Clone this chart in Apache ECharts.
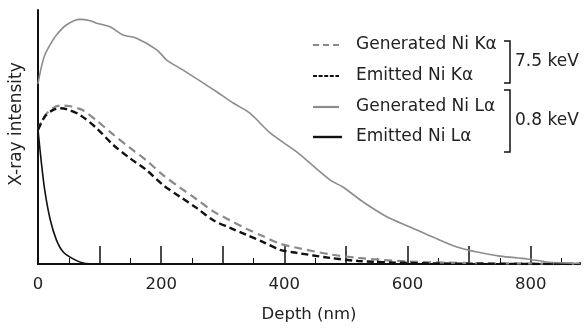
<!DOCTYPE html>
<html>
<head>
<meta charset="utf-8">
<script src="https://cdn.jsdelivr.net/npm/echarts@6/dist/echarts.min.js"></script>
<style>html,body{margin:0;padding:0;background:#fff;}#chart{width:587px;height:329px;}</style>
</head>
<body>
<div id="chart"></div>
<script>
// Series names
var seriesNames = ['Generated Ni Kα', 'Emitted Ni Kα', 'Generated Ni Lα', 'Emitted Ni Lα'];
var bracketLabels = ['7.5 keV', '0.8 keV'];

// Generated Ni Kα
var depthGenKa = [0, 11, 24, 36, 50, 73, 95, 122, 149, 176, 203, 231, 258, 284, 312, 339, 365, 393, 420, 474, 520, 600, 700, 880];
var valGenKa   = [52.8, 58.3, 61.4, 62.4, 62.2, 60.5, 56.5, 51.0, 45.8, 40.8, 35.0, 30.0, 25.4, 20.8, 17.2, 13.8, 11.0, 8.0, 6.4, 3.8, 2.4, 1.0, 0.4, 0.1];
// Emitted Ni Kα
var depthEmKa = [0, 11, 24, 36, 46, 68, 95, 122, 149, 176, 203, 231, 258, 284, 312, 339, 365, 393, 420, 474, 520, 600, 700, 880];
var valEmKa   = [52.8, 58.0, 60.6, 61.3, 61.0, 58.7, 53.5, 46.9, 41.7, 37.0, 31.1, 26.4, 22.0, 17.3, 14.2, 11.4, 8.7, 5.6, 4.4, 2.4, 1.2, 0.4, 0.1, 0];
// Generated Ni Lα
var depthGenLa = [0, 5, 11, 20, 30, 46, 68, 85, 95, 117, 138, 160, 193, 209, 235, 268, 290, 317, 344, 377, 420, 474, 495, 528, 567, 604, 641, 680, 713, 750, 794, 826, 859, 880];
var valGenLa   = [70.9, 77.0, 82.3, 86.5, 90.2, 94.1, 96.3, 95.8, 94.8, 93.4, 90.2, 88.9, 84.3, 80.3, 76.4, 71.3, 67.8, 63.4, 59.4, 51.6, 44.1, 33.1, 30.3, 24.4, 18.5, 14.6, 10.6, 6.7, 4.7, 3.1, 2.0, 0.8, 0.4, 0.2];
// Emitted Ni Lα
var depthEmLa = [0, 5, 11, 20, 30, 41, 57, 73, 100];
var valEmLa   = [52.8, 41.0, 29.0, 17.3, 9.4, 4.7, 2.0, 0.4, 0];

function pairs(xs, ys) { return xs.map(function (x, i) { return [x, ys[i]]; }); }

var FONT = 'DejaVu Sans';
var TXT = '#222';
var chart = echarts.init(document.getElementById('chart'), null, {renderer: 'canvas'});

var styles = [
  {color: '#8a8a8a', width: 2.2, dash: [8, 5], legDash: [6, 4]},
  {color: '#111', width: 2.4, dash: [7, 4], legDash: [4, 1.6]},
  {color: '#8c8c8c', width: 1.6, dash: null, legDash: null},
  {color: '#111', width: 1.6, dash: null, legDash: null}
];

function line(i, xs, ys) {
  var s = styles[i];
  return {
    name: seriesNames[i], type: 'line', data: pairs(xs, ys), symbol: 'none', smooth: 0.3,
    lineStyle: {color: s.color, width: s.width, type: s.dash ? s.dash : 'solid'},
    itemStyle: {color: s.color}, animation: false
  };
}

var rowY = [45, 76, 107, 137];
var graphics = [
  {type: 'text', x: 17, y: 124, rotation: Math.PI / 2, style: {text: 'X-ray intensity', fontFamily: FONT, fontSize: 17, fill: TXT, align: 'center', verticalAlign: 'middle'}},
  {type: 'polyline', shape: {points: [[504, 41], [510, 41], [510, 83], [504, 83]]}, style: {stroke: '#111', lineWidth: 1.5, fill: null}},
  {type: 'polyline', shape: {points: [[504, 90], [510, 90], [510, 152], [504, 152]]}, style: {stroke: '#111', lineWidth: 1.5, fill: null}},
  {type: 'text', x: 515, y: 62, style: {text: bracketLabels[0], fontFamily: FONT, fontSize: 17, fill: TXT, verticalAlign: 'middle'}},
  {type: 'text', x: 515, y: 121, style: {text: bracketLabels[1], fontFamily: FONT, fontSize: 17, fill: TXT, verticalAlign: 'middle'}},
  // hide the tick that ECharts places at the axis max (880)
  {type: 'rect', shape: {x: 577, y: 240, width: 6, height: 22}, style: {fill: '#fff'}, z: 100}
];
seriesNames.forEach(function (n, i) {
  var s = styles[i];
  graphics.push({type: 'line', shape: {x1: 313, y1: rowY[i], x2: i === 3 ? 342 : 339, y2: rowY[i]},
    style: {stroke: s.color, lineWidth: i === 3 ? 2.4 : 2.2, lineDash: s.legDash}});
  graphics.push({type: 'text', x: 356, y: rowY[i], style: {text: n, fontFamily: FONT, fontSize: 17, fill: TXT, verticalAlign: 'middle'}});
});

chart.setOption({
  animation: false,
  grid: {left: 38, top: 10, right: 7, bottom: 65},
  xAxis: {
    type: 'value', min: 0, max: 880, interval: 100,
    name: 'Depth (nm)', nameLocation: 'middle', nameGap: 42,
    nameTextStyle: {fontFamily: FONT, fontSize: 16.5, color: TXT},
    axisLine: {onZero: false, lineStyle: {color: '#111', width: 2}},
    axisTick: {show: true, inside: true, length: 18, lineStyle: {color: '#111', width: 1.5}},
    minorTick: {show: true, splitNumber: 2, length: 6, lineStyle: {color: '#111', width: 1}},
    splitLine: {show: false},
    axisLabel: {fontFamily: FONT, fontSize: 16.5, color: TXT, margin: 12,
      showMaxLabel: false,
      formatter: function (v) { return v % 200 === 0 ? String(v) : ''; }}
  },
  yAxis: {
    type: 'value', min: 0, max: 100,
    axisLine: {show: true, lineStyle: {color: '#111', width: 2}},
    axisTick: {show: false}, axisLabel: {show: false}, splitLine: {show: false}
  },
  series: [
    line(0, depthGenKa, valGenKa),
    line(1, depthEmKa, valEmKa),
    line(2, depthGenLa, valGenLa),
    line(3, depthEmLa, valEmLa)
  ],
  graphic: graphics
});
</script>
</body>
</html>
